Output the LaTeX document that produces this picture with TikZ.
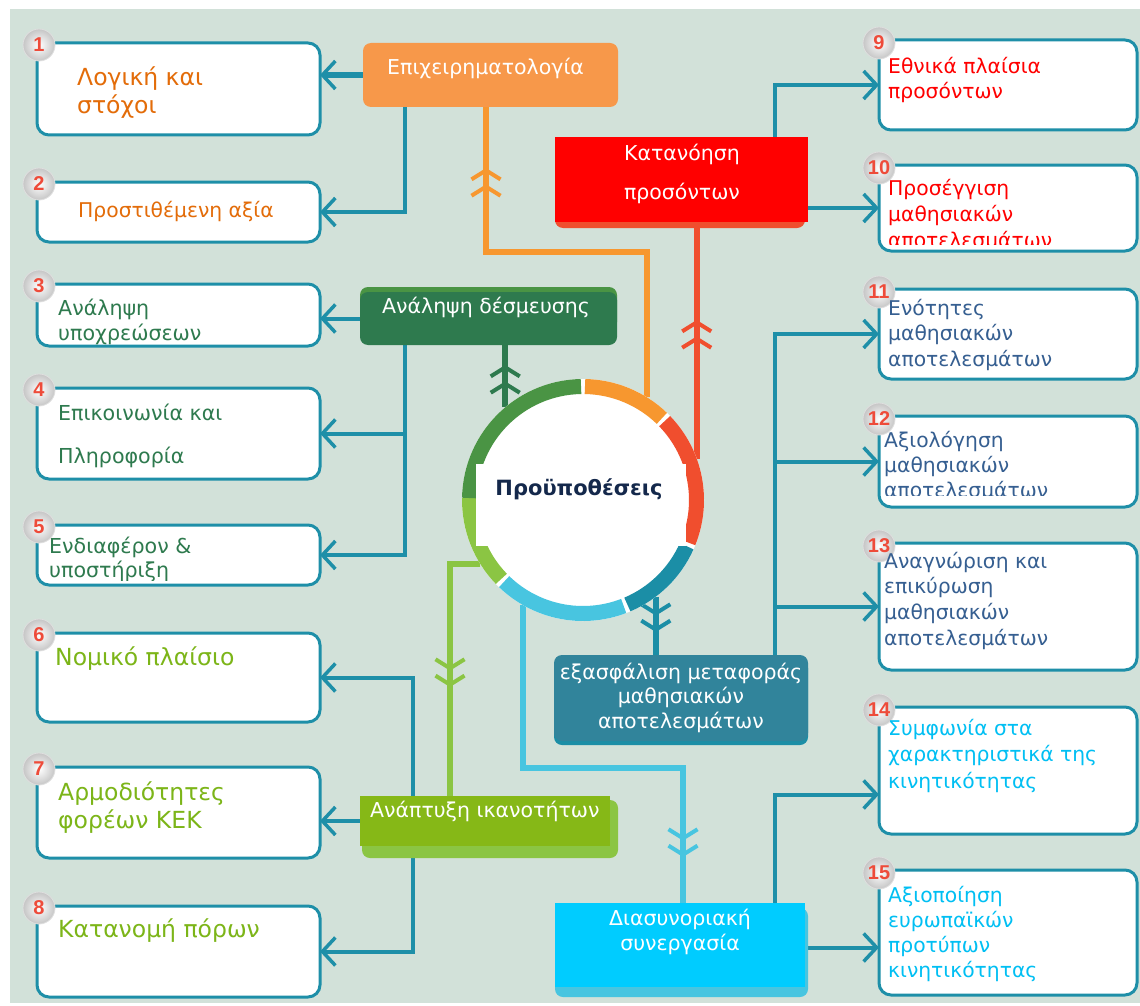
\documentclass[tikz,border=0pt]{standalone}
\usepackage{fontspec}
\setmainfont{DejaVu Sans}
\newfontfamily\numfont{Liberation Sans}
\usetikzlibrary{arrows.meta,decorations.markings}
\definecolor{bgcol}{HTML}{D2E1D9}
\definecolor{linkcol}{HTML}{1E8FA8}
\definecolor{argcol}{HTML}{F7984A}
\definecolor{undcol}{HTML}{FF0000}
\definecolor{undsh}{HTML}{F04E2E}
\definecolor{comcol}{HTML}{2E7A4E}
\definecolor{comsh}{HTML}{4A9444}
\definecolor{seccol}{HTML}{31849B}
\definecolor{secsh}{HTML}{1B8EA6}
\definecolor{devcol}{HTML}{86B817}
\definecolor{devsh}{HTML}{8BC543}
\definecolor{cbccol}{HTML}{00CCFF}
\definecolor{cbcsh}{HTML}{48C5E0}
\definecolor{ringor}{HTML}{F7972F}
\definecolor{ringrd}{HTML}{F04E2E}
\definecolor{ringtl}{HTML}{1B8EA6}
\definecolor{ringcy}{HTML}{48C5E0}
\definecolor{ringlg}{HTML}{8BC543}
\definecolor{ringdg}{HTML}{4A9444}
\definecolor{orgtxt}{HTML}{E36C09}
\definecolor{grntxt}{HTML}{2E7A4E}
\definecolor{lgtxt}{HTML}{7CB518}
\definecolor{redtxt}{HTML}{FF0000}
\definecolor{blutxt}{HTML}{365F91}
\definecolor{cyntxt}{HTML}{00BFF3}
\definecolor{pretxt}{HTML}{14284B}
\definecolor{numcol}{HTML}{EE4B3A}
\newcommand\fsz[2]{\fontsize{#1}{#2}\selectfont}
\pgfdeclarelayer{back}
\pgfsetlayers{back,main}
\tikzset{
    box/.style={draw=linkcol, line width=3pt, fill=white, rounded corners=12pt, anchor=north west, inner sep=0pt, outer sep=0pt},
    cat/.style={anchor=north west, inner sep=0pt, outer sep=0pt},
    badge/.style={circle, minimum size=32pt, inner sep=0pt, inner color=white, outer color=gray!45, draw=gray!25, line width=0.8pt, text=numcol, font=\numfont\bfseries\fsz{20}{20}},
    itxt/.style={anchor=north west, inner sep=0pt, align=left},
    ctxt/.style={anchor=north, inner sep=0pt, align=center, text=white},
    link/.style={draw=linkcol, line width=4pt, -{Straight Barb[length=13pt,width=28pt,line width=3.5pt]}},
    feed/.style={line width=6pt},
    Chev/.tip={Straight Barb[length=9pt,width=29pt,line width=4pt,sep=3pt]Straight Barb[length=9pt,width=29pt,line width=4pt]},
    chevat/.style={postaction=decorate, decoration={markings, mark=at position #1 with {\arrow{Chev}}}},
}
\begin{document}
\begin{tikzpicture}[x=1pt, y=-1pt]
    \useasboundingbox (0,0) rectangle (1140,1006);
    \foreach \n/\x/\y/\w/\h in {1/37/43/283/92, 2/37/182/283/60, 3/37/284/283/62, 4/37/388/283/91, 5/37/525/283/60, 6/37/633/283/89, 7/37/767/283/91, 8/37/906/283/91, 9/879/40/258/90, 10/879/165/258/86, 11/879/289/258/90, 12/879/416/258/91, 13/879/543/258/127, 14/879/707/258/127, 15/879/870/258/125}
        \node[box, minimum width=\w, minimum height=\h] (it\n) at (\x,\y) {};
    \foreach \n in {1,...,8}
        \node[badge] (b\n) at ([xshift=2pt,yshift=-2pt]it\n.north west) {\n};
    \foreach \n in {9,...,15}
        \node[badge] (b\n) at ([yshift=-3pt]it\n.north west) {\n};

    \node[circle, fill=white, minimum size=242, inner sep=0pt, outer sep=0pt] (pre) at (583,500) {};
    \begin{scope}[shift={(pre.center)}, y=1pt]
        \foreach \a/\b/\c in {89/46/ringor, 44/-22/ringrd, -24/-67/ringtl, -69/-134/ringcy, -136/-181/ringlg, 179/91/ringdg}
            \draw[line width=15pt, \c] (\a:113.5) arc[start angle=\a, end angle=\b, radius=113.5];
    \end{scope}
    \fill[white] (476,464) rectangle (686,546);
    \node[anchor=base, inner sep=0pt, font=\bfseries\fsz{21}{24}, text=pretxt] (tpre) at (579,495) {Προϋποθέσεις};

    \node[cat, fill=argcol, rounded corners=8pt, minimum width=255, minimum height=64] (arg) at (363,43) {};
    \fill[undsh, rounded corners=8pt] (555,140) rectangle (805,228);
    \node[cat, fill=undcol, minimum width=253, minimum height=85] (und) at (555,137) {};
    \fill[comsh, rounded corners=8pt] (360,287) rectangle (617,330);
    \node[cat, fill=comcol, rounded corners=8pt, minimum width=257, minimum height=53] (com) at (360,292) {};
    \fill[secsh, rounded corners=8pt] (554,660) rectangle (808,745);
    \node[cat, fill=seccol, rounded corners=8pt, minimum width=254, minimum height=86] (sec) at (554,655) {};
    \fill[devsh, rounded corners=8pt] (362,800) rectangle (618,858);
    \node[cat, fill=devcol, minimum width=250, minimum height=50] (dev) at (360,796) {};
    \fill[cbcsh, rounded corners=8pt] (555,908) rectangle (808,997);
    \node[cat, fill=cbccol, minimum width=250, minimum height=84] (cbc) at (555,903) {};

    \node[itxt, text=white, font=\fsz{20.5}{24}] (targ) at (387,57.2) {\strut Επιχειρηματολογία};
    \node[ctxt, font=\fsz{20.5}{39}] (tund) at (682,132.7) {\strut Κατανόηση\\προσόντων};
    \node[ctxt, font=\fsz{20.5}{24}] (tcom) at (486,296.2) {\strut Ανάληψη δέσμευσης};
    \node[ctxt, font=\fsz{20.5}{24.5}] (tsec) at (681,661.85) {\strut εξασφάλιση μεταφοράς\\μαθησιακών\\αποτελεσμάτων};
    \node[itxt, text=white, font=\fsz{20.5}{24}] (tdev) at (370,800.2) {\strut Ανάπτυξη ικανοτήτων};
    \node[ctxt, font=\fsz{20.5}{25}] (tcbc) at (680,907.5) {\strut Διασυνοριακή\\συνεργασία};

    \node[itxt, text=orgtxt, font=\fsz{23.5}{28}] (t1) at (77,65.4) {\strut Λογική και\\στόχοι};
    \node[itxt, text=orgtxt, font=\fsz{20.3}{26}] (t2) at (78,198.8) {\strut Προστιθέμενη αξία};
    \node[itxt, text=grntxt, font=\fsz{20.6}{25}] (t3) at (58,297.5) {\strut Ανάληψη\\υποχρεώσεων};
    \node[itxt, text=grntxt, font=\fsz{20.6}{43}] (t4) at (58,389.9) {\strut Επικοινωνία και\\Πληροφορία};
    \begin{scope}
        \clip (40,520) rectangle (318,580);
        \node[itxt, text=grntxt, font=\fsz{20.6}{24}] (t5) at (49,536.2) {\strut Ενδιαφέρον \&\\υποστήριξη};
    \end{scope}
    \node[itxt, text=lgtxt, font=\fsz{23.5}{28}] (t6) at (55,645.4) {\strut Νομικό πλαίσιο};
    \node[itxt, text=lgtxt, font=\fsz{23.5}{28}] (t7) at (58,780.4) {\strut Αρμοδιότητες\\φορέων ΚΕΚ};
    \node[itxt, text=lgtxt, font=\fsz{23.5}{28}] (t8) at (58,917.4) {\strut Κατανομή πόρων};
    \node[itxt, text=redtxt, font=\fsz{20.3}{25}] (t9) at (888,55.5) {\strut Εθνικά πλαίσια\\προσόντων};
    \begin{scope}
        \clip (882,168) rectangle (1134,244);
        \node[itxt, text=redtxt, font=\fsz{20.3}{26}] (t10) at (888,176.8) {\strut Προσέγγιση\\μαθησιακών\\αποτελεσμάτων};
    \end{scope}
    \node[itxt, text=blutxt, font=\fsz{20.3}{25.5}] (t11) at (888,297.15) {\strut Ενότητες\\μαθησιακών\\αποτελεσμάτων};
    \begin{scope}
        \clip (882,419) rectangle (1134,495);
        \node[itxt, text=blutxt, font=\fsz{20.3}{25}] (t12) at (884,429.5) {\strut Αξιολόγηση\\μαθησιακών\\αποτελεσμάτων};
    \end{scope}
    \node[itxt, text=blutxt, font=\fsz{20.3}{25.7}] (t13) at (884,550) {\strut Αναγνώριση και\\επικύρωση\\μαθησιακών\\αποτελεσμάτων};
    \node[itxt, text=cyntxt, font=\fsz{20.3}{26.5}] (t14) at (888,716.45) {\strut Συμφωνία στα\\χαρακτηριστικά της\\κινητικότητας};
    \node[itxt, text=cyntxt, font=\fsz{20.3}{25}] (t15) at (888,884.5) {\strut Αξιοποίηση\\ευρωπαϊκών\\προτύπων\\κινητικότητας};

    \begin{pgfonlayer}{back}
        \fill[white] (0,0) rectangle (1140,1006);
        \fill[bgcol] (10,9) rectangle (1140,1003);
        \coordinate (ob) at (486,252);
        \coordinate (cb) at (683,768);
        \coordinate (c14) at ([yshift=-24pt]it14.west);
        \coordinate (c15) at ([yshift=-15pt]it15.west);
        \draw[feed, ringor, chevat=-61pt] (pre.58) |- (ob) -- (ob |- arg.south);
        \draw[feed, ringrd, chevat=-98pt] (pre.20) -- (pre.20 |- und.south);
        \draw[feed, comcol, chevat=-20pt] (pre.130) -- (pre.130 |- com.south);
        \draw[feed, ringtl, chevat=-23pt] (pre.-53) -- (pre.-53 |- sec.north);
        \draw[feed, ringlg, chevat=-109pt] (pre.212) -| ([xshift=-35pt]dev.north);
        \draw[feed, ringcy, chevat=-46pt] (pre.-120) |- (cb) -- (cb |- cbc.north);
        \draw[link, line width=6pt] (arg.west) -- (arg.west -| it1.east);
        \draw[link] ([xshift=-85.5pt]arg.south) |- (it2.east);
        \draw[link] (com.west) -- (com.west -| it3.east);
        \draw[link] ([xshift=-83.5pt]com.south) |- (it4.east);
        \draw[link] ([xshift=-83.5pt]com.south) |- (it5.east);
        \draw[link] ([xshift=-72pt]dev.north) |- (it6.east);
        \draw[link] (dev.west) -- (dev.west -| it7.east);
        \draw[link] ([xshift=-72pt]dev.south) |- (it8.east);
        \draw[link] ([xshift=93.5pt]und.north) |- (it9.west);
        \draw[link] (und.east |- it10.west) -- (it10.west);
        \foreach \n in {11,12,13}
            \draw[link] ([xshift=94pt]sec.north) |- (it\n.west);
        \draw[link] ([xshift=95pt]cbc.north) |- (c14);
        \draw[link] (c15 -| cbc.east) -- (c15);
    \end{pgfonlayer}
\end{tikzpicture}
\end{document}
